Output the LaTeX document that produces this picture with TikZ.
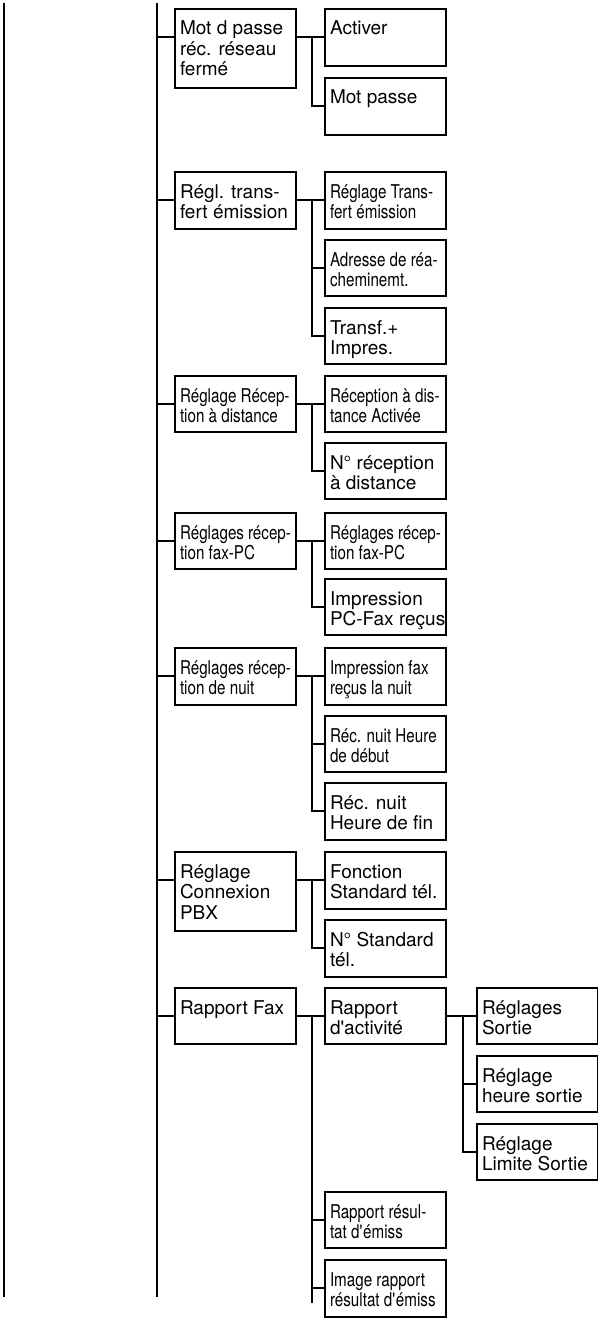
\documentclass[tikz,border=0pt]{standalone}
\usepackage{fontspec}
\setmainfont{TeX Gyre Heros}
\newfontfamily\cnd[FakeStretch=0.8]{TeX Gyre Heros}
\newcommand\bxt[2]{\parbox[b][#1pt][t]{111pt}{\raggedright\rule{0pt}{26pt}#2}}
\newcommand\apo{\textquotesingle}
\newcommand\cpt[1]{%
  \coordinate (#1c) at ([yshift=-28pt]#1.north west);
  \coordinate (#1e) at ([yshift=-28pt]#1.north east);}
\begin{document}
\begin{tikzpicture}[x=1pt,y=1pt,
  ln/.style={line width=1.8pt},
  box/.style={draw, line width=1.8pt, anchor=north west, inner xsep=5pt, inner ysep=0pt, outer sep=0pt,
    font=\fontsize{19}{20.5}\selectfont}]
\useasboundingbox (0,0) rectangle (597,-1319);
% trunks
\coordinate (ltop) at (4,-3);
\coordinate (lbot) at (4,-1297);
\coordinate (mtop) at (157,-3);
\coordinate (mbot) at (157,-1297);
\coordinate (tx2) at (312,0);
\coordinate (tx3) at (463,0);
\coordinate (c7end) at (312,-1303);
\draw[ln] (ltop) -- (lbot);
\draw[ln] (mtop) -- (mbot);
% level 1
\node[box] (P1) at (175,-9) {\bxt{79}{Mot d passe\\réc. réseau\\fermé}};
\node[box] (P2) at (175,-172) {\bxt{57}{Régl. trans-\\fert émission}};
\node[box] (P3) at (175,-376) {\bxt{56}{\cnd Réglage Récep-\\tion à distance}};
\node[box] (P4) at (175,-513) {\bxt{56}{\cnd Réglages récep-\\tion fax-PC}};
\node[box] (P5) at (175,-648) {\bxt{57}{\cnd Réglages récep-\\tion de nuit}};
\node[box] (P6) at (175,-852) {\bxt{79}{Réglage\\Connexion\\PBX}};
\node[box] (P7) at (175,-988) {\bxt{56}{Rapport Fax}};
% level 2
\node[box] (C1a) at (325,-9) {\bxt{57}{Activer}};
\node[box] (C1b) at (325,-78) {\bxt{57}{Mot passe}};
\node[box] (C2a) at (325,-172) {\bxt{57}{\cnd Réglage Trans-\\fert émission}};
\node[box] (C2b) at (325,-240) {\bxt{56}{\cnd Adresse de réa-\\cheminemt.}};
\node[box] (C2c) at (325,-308) {\bxt{56}{Transf.+\\Impres.}};
\node[box] (C3a) at (325,-376) {\bxt{56}{\cnd Réception à dis-\\tance Activée}};
\node[box] (C3b) at (325,-443) {\bxt{56}{N° réception\\à distance}};
\node[box] (C4a) at (325,-513) {\bxt{56}{\cnd Réglages récep-\\tion fax-PC}};
\node[box] (C4b) at (325,-579) {\bxt{56}{Impression\\\mbox{PC-Fax reçus}}};
\node[box] (C5a) at (325,-648) {\bxt{57}{\cnd Impression fax\\reçus la nuit}};
\node[box] (C5b) at (325,-716) {\bxt{56}{\cnd Réc. nuit Heure\\de début}};
\node[box] (C5c) at (325,-783) {\bxt{57}{Réc. nuit\\Heure de fin}};
\node[box] (C6a) at (325,-852) {\bxt{57}{Fonction\\Standard tél.}};
\node[box] (C6b) at (325,-920) {\bxt{57}{N° Standard\\tél.}};
\node[box] (C7a) at (325,-988) {\bxt{56}{Rapport\\d\apo activité}};
\node[box] (C7b) at (325,-1192) {\bxt{56}{\cnd Rapport résul-\\tat d\apo émiss}};
\node[box] (C7c) at (325,-1260) {\bxt{57}{\cnd Image rapport\\\mbox{résultat d\apo émiss}}};
% level 3
\node[box] (D1) at (477,-988) {\bxt{56}{Réglages\\Sortie}};
\node[box] (D2) at (477,-1056) {\bxt{56}{Réglage\\\mbox{heure sortie}}};
\node[box] (D3) at (477,-1124) {\bxt{56}{Réglage\\\mbox{Limite Sortie}}};
% connection points
\cpt{P1}\cpt{P2}\cpt{P3}\cpt{P4}\cpt{P5}\cpt{P6}\cpt{P7}
\cpt{C1a}\cpt{C1b}\cpt{C2a}\cpt{C2b}\cpt{C2c}\cpt{C3a}\cpt{C3b}
\cpt{C4a}\cpt{C4b}\cpt{C5a}\cpt{C5b}\cpt{C5c}\cpt{C6a}\cpt{C6b}
\cpt{C7a}\cpt{C7b}\cpt{C7c}\cpt{D1}\cpt{D2}\cpt{D3}
% main trunk to level 1
\foreach \p in {P1,P2,P3,P4,P5,P6,P7}{\draw[ln] (mtop |- \p c) -- (\p c);}
% parent to first child
\foreach \p/\c in {P1/C1a,P2/C2a,P3/C3a,P4/C4a,P5/C5a,P6/C6a,P7/C7a,C7a/D1}{\draw[ln] (\p e) -- (\c c);}
% child trunks
\draw[ln] (tx2 |- C1ac) |- (C1bc);
\draw[ln] (tx2 |- C2ac) |- (C2cc);
\draw[ln] (tx2 |- C2bc) -- (C2bc);
\draw[ln] (tx2 |- C3ac) |- (C3bc);
\draw[ln] (tx2 |- C4ac) |- (C4bc);
\draw[ln] (tx2 |- C5ac) |- (C5cc);
\draw[ln] (tx2 |- C5bc) -- (C5bc);
\draw[ln] (tx2 |- C6ac) |- (C6bc);
\draw[ln] (tx2 |- C7ac) -- (c7end);
\draw[ln] (tx2 |- C7bc) -- (C7bc);
\draw[ln] (tx2 |- C7cc) -- (C7cc);
\draw[ln] (tx3 |- D1c) |- (D3c);
\draw[ln] (tx3 |- D2c) -- (D2c);
\end{tikzpicture}
\end{document}
